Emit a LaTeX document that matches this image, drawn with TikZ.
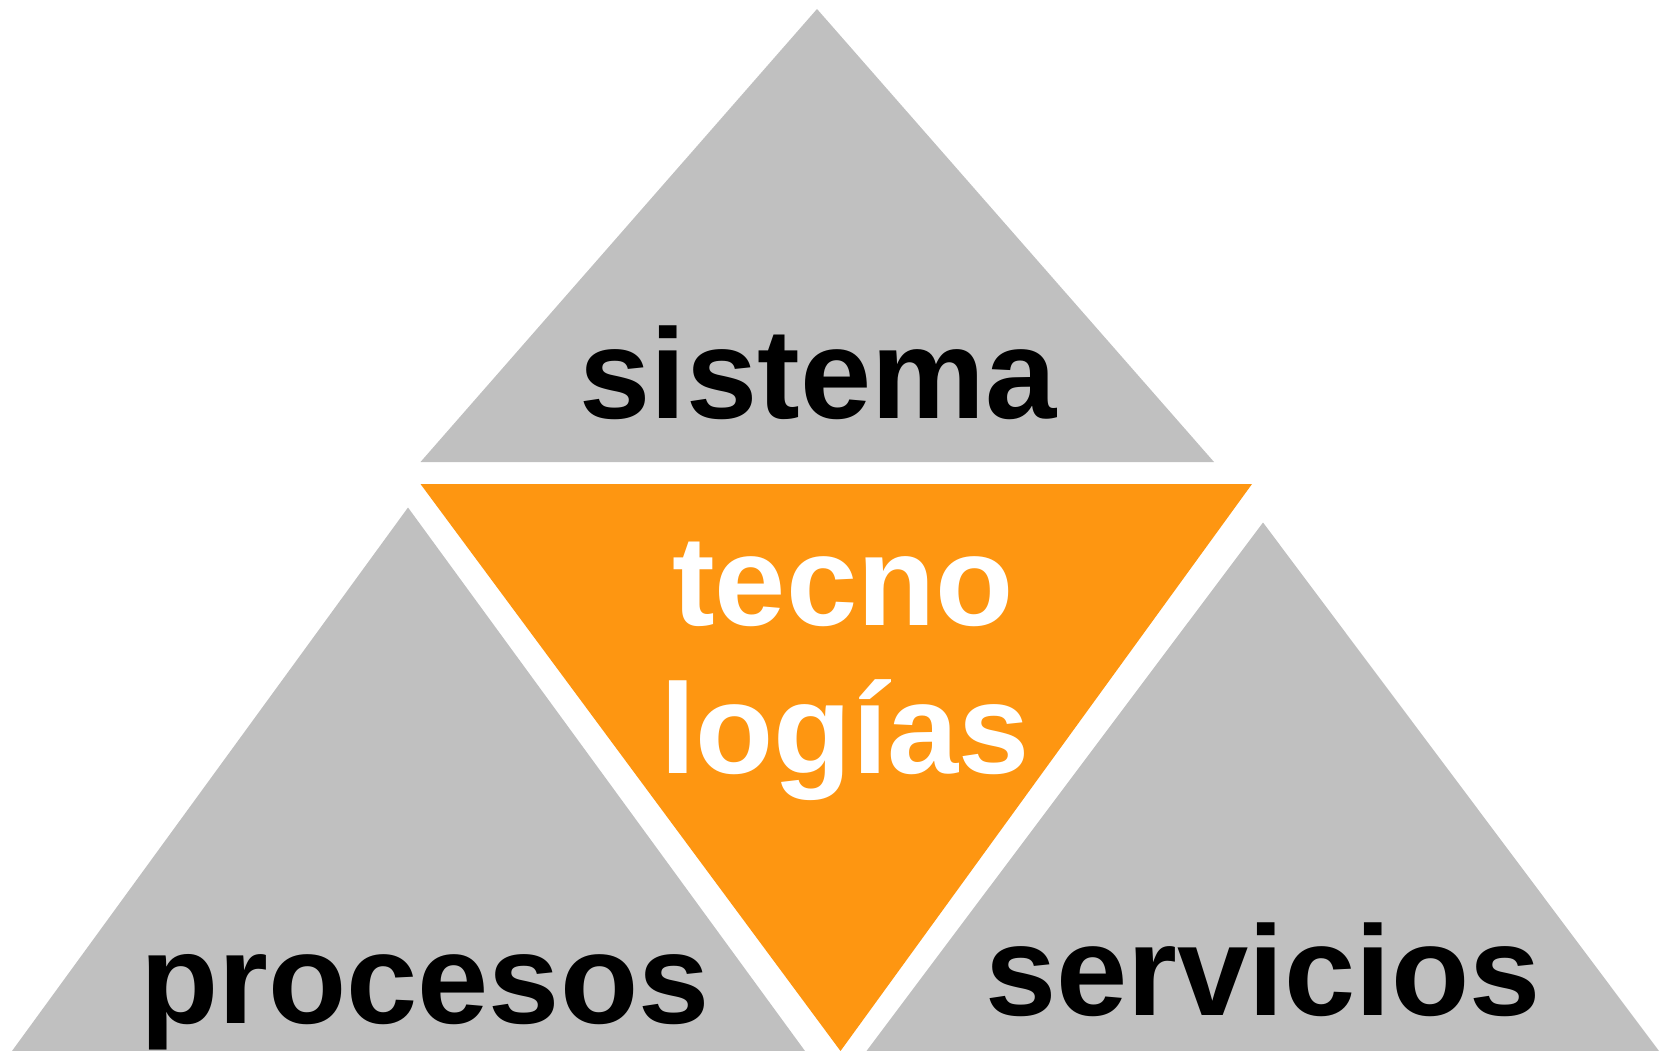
\documentclass[tikz,border=0pt]{standalone}
\usepackage{fontspec}
\setmainfont{Liberation Sans}
\definecolor{tgrey}{RGB}{192,192,192}
\definecolor{torange}{RGB}{254,150,17}
\begin{document}
\begin{tikzpicture}[x=1pt,y=-1pt,
  tri/.style={fill=tgrey,draw=none},
  lbl/.style={anchor=base,inner sep=0pt,font=\fontsize{128}{150}\selectfont\bfseries}]
\useasboundingbox (0,0) rectangle (1661,1051);
\fill[tgrey] (817,9) -- (1214,462) -- (420.5,462) -- cycle;
\fill[tgrey] (408,507.5) -- (805,1051) -- (12,1051) -- cycle;
\fill[tgrey] (1263,522.5) -- (1659,1051) -- (866.5,1051) -- cycle;
\fill[torange] (420.5,484) -- (1252,484) -- (840.5,1051) -- cycle;
\node[lbl,text=black] (sistema) at (818,418) {sistema};
\node[lbl,text=white] (tecno) at (843,625) {tecno};
\node[lbl,text=white] (logias) at (845,773) {logías};
\node[lbl,text=black] (procesos) at (425,1023) {procesos};
\node[lbl,text=black] (servicios) at (1263,1015) {servicios};
\end{tikzpicture}
\end{document}
